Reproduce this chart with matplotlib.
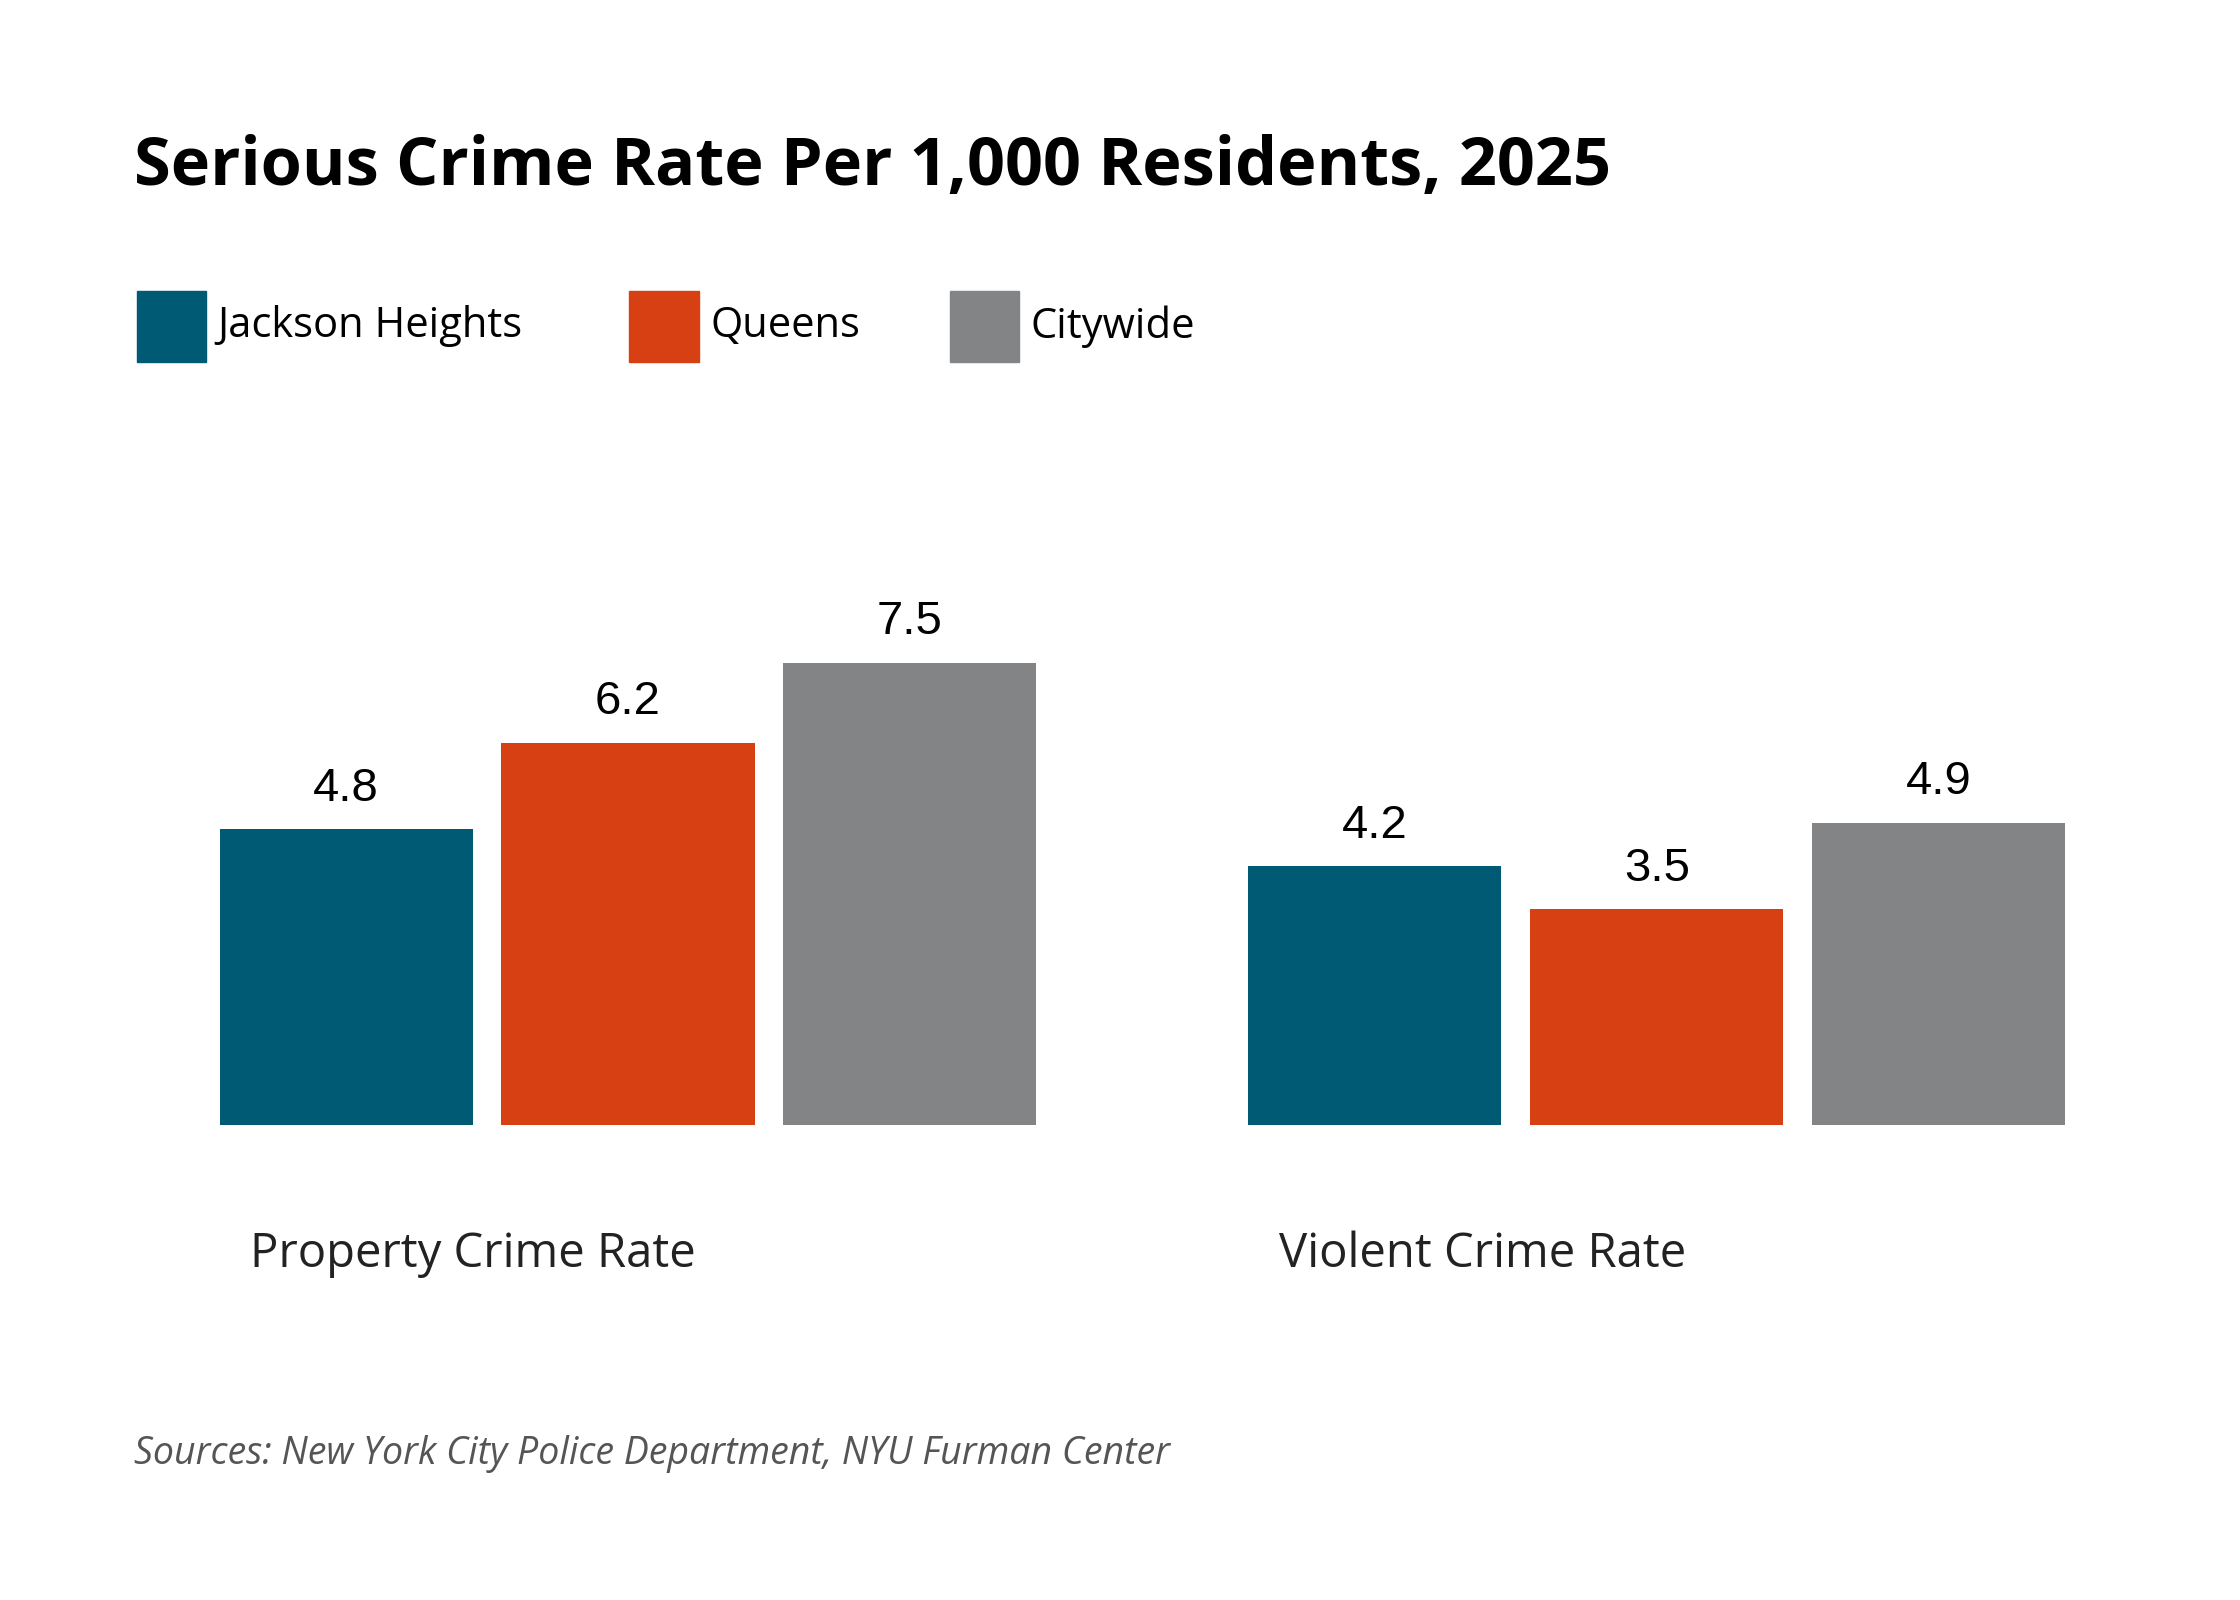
import numpy as np
from matplotlib import pyplot as plt
from matplotlib.patches import Rectangle

categories = ['Property Crime Rate', 'Violent Crime Rate']
series = ['Jackson Heights', 'Queens', 'Citywide']
values = [[4.8, 4.2], [6.2, 3.5], [7.5, 4.9]]
colors = ['#005a74', '#d64013', '#838486']

fig = plt.figure(figsize=(22.4, 16), dpi=100)
ax = fig.add_axes([0.098, 0.297, 0.824, 0.439])

x = np.arange(len(categories))
step, width = 0.274, 0.246
for i, (name, vals) in enumerate(zip(series, values)):
    pos = x + (i - 1) * step
    ax.bar(pos, vals, width=width, color=colors[i])
    for p, v in zip(pos, vals):
        ax.text(p, v + 0.3, f'{v:.1f}', ha='center', va='bottom',
                fontsize=34, family='Liberation Sans')

ax.set_xlim(-0.397, 1.397)
ax.set_ylim(0, 11.4)
ax.axis('off')

for xi, c in zip(x, categories):
    ax.text(xi - 0.367, -2.1, c, ha='left', va='center', fontsize=34,
            family='Open Sans', color='#222222')

fig.text(0.060, 0.895, 'Serious Crime Rate Per 1,000 Residents, 2025',
         fontsize=48, fontweight='bold', family='Open Sans', va='center')

lx = [0.061, 0.281, 0.424]
for x0, name, col in zip(lx, series, colors):
    fig.patches.append(Rectangle((x0, 0.774), 0.031, 0.044, color=col,
                                 transform=fig.transFigure))
    fig.text(x0 + 0.036, 0.796, name, fontsize=30, family='Open Sans',
             va='center')

fig.text(0.060, 0.085 + 0.006, 'Sources: New York City Police Department, NYU Furman Center',
         fontsize=27, style='italic', family='Open Sans', color='#555555',
         va='center')

plt.savefig('out.png')
